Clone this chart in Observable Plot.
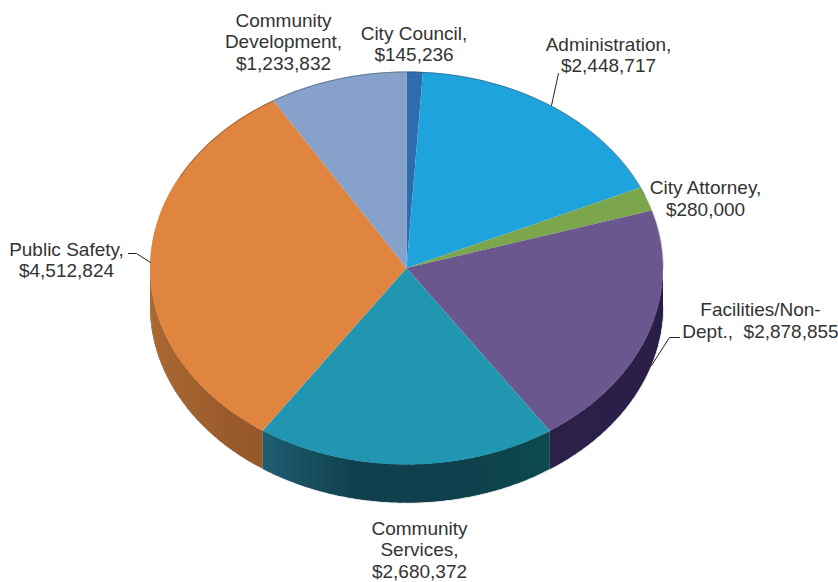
<!DOCTYPE html>
<html>
<head>
<meta charset="utf-8">
<script src="https://cdn.jsdelivr.net/npm/d3@7"></script>
<script src="https://cdn.jsdelivr.net/npm/@observablehq/plot@0.6"></script>
<style>
  html, body { margin: 0; padding: 0; background: #fff; }
  svg { display: block; }
</style>
</head>
<body>
<div id="chart"></div>
<script>
// General fund budget by department, clockwise from twelve o'clock.
const departments = ["City Council", "Administration", "City Attorney", "Facilities/Non-Dept.", "Community Services", "Public Safety", "Community Development"];
const budgets = [145236, 2448717, 280000, 2878855, 2680372, 4512824, 1233832];
const topColors = ["#2f6cae", "#1fa3dc", "#7ba64c", "#6a578d", "#2096b1", "#df853f", "#87a2ca"];
const rimColors = [
  ["#1c4068", "#1c4068"], ["#125f80", "#125f80"], ["#48602c", "#48602c"],
  ["#2a1e48", "#2c2049"], ["#0d4a50", "#0e3f4c", "#10404e", "#1f5f73"],
  ["#95572a", "#a5642f", "#ad6c35"], ["#4f5f76", "#4f5f76"]
];
const labelLines = [
  "City Council,\n$145,236",
  "Administration,\n$2,448,717",
  "City Attorney,\n$280,000",
  "Facilities/Non-\nDept.,\u00a0 $2,878,855",
  "Community\nServices,\n$2,680,372",
  "Public Safety,\n$4,512,824",
  "Community\nDevelopment,\n$1,233,832"
];

// Page layout of the tilted disc and its labels.
const disc = {cx: 406.5, cy: 268, rx: 256.5, ry: 196.5, depth: 38};
const labelX = [413.5, 608, 705, 760, 419, 66, 283];
const labelY = [43, 54, 197.5, 319.5, 549, 259, 41];
const leaderRuns = [
  {name: "Administration", xs: [551, 558], ys: [105, 73]},
  {name: "Public Safety", xs: [128, 136, 150], ys: [253, 253, 262]},
  {name: "Facilities", xs: [679, 669, 651], ys: [337, 337, 365]}
];

const tau = 2 * Math.PI;
const degree = Math.PI / 180;
const onDisc = (angle, drop = 0) => ({
  x: disc.cx + disc.rx * Math.sin(angle),
  y: disc.cy - disc.ry * Math.cos(angle) + drop
});

// Slice angles come straight from the budget values.
const total = d3.sum(budgets);
let running = 0;
const slices = departments.map((name, i) => {
  const start = running / total * tau;
  running += budgets[i];
  return {name, i, start, end: running / total * tau};
});

// Sample the outline of each wedge so the area mark can fan it from the centre.
const wedgePoints = slices.flatMap(s => {
  const steps = Math.max(4, Math.ceil((s.end - s.start) / degree));
  return d3.range(steps + 1).map(k => {
    const p = onDisc(s.start + (s.end - s.start) * k / steps);
    return {name: s.name, fill: topColors[s.i], x1: p.x, y1: p.y, x2: disc.cx, y2: disc.cy};
  });
});

// The rim is visible only on the near half of the disc. Short bands carry its
// shading; each one runs under the next so no seams open between them.
const rimBands = slices.flatMap(s => {
  const from = Math.max(s.start, Math.PI / 2);
  const to = Math.min(s.end, 3 * Math.PI / 2);
  if (to <= from) return [];
  const steps = Math.ceil((to - from) / (2 * degree));
  const shade = d3.piecewise(d3.interpolateRgb, rimColors[s.i]);
  return d3.range(steps).flatMap(k => {
    const a = from + (to - from) * k / steps;
    const b = Math.min(to, a + (to - from) / steps + 3 * degree);
    const fill = shade((k + 0.5) / steps);
    const band = `${s.name}-${k}`;
    return d3.range(7).map(j => {
      const t = a + (b - a) * j / 6;
      const p = onDisc(t), q = onDisc(t, disc.depth);
      return {band, fill, x1: p.x, y1: p.y, x2: q.x, y2: q.y};
    });
  });
});

// Thin edge around the far side of the disc, fading towards the flanks.
const arcFrom = (lo, hi, drop = 0) => d3.range(lo, hi + 1).map(d => onDisc(d * degree, drop));
const farEdge = arcFrom(-62, 68);
const flankEdges = [
  ...arcFrom(-90, -62).map(p => ({...p, part: "left"})),
  ...arcFrom(68, 90).map(p => ({...p, part: "right"})),
  ...arcFrom(90, 270, disc.depth).map(p => ({...p, part: "near"}))
];

const labels = labelLines.map((text, i) => ({text, x: labelX[i], y: labelY[i]}));
const leaders = leaderRuns.flatMap(run => run.xs.map((x, i) => ({name: run.name, x, y: run.ys[i]})));

const chart = Plot.plot({
  width: 838,
  height: 582,
  margin: 0,
  x: {type: "linear", domain: [0, 838], range: [0, 838], axis: null},
  y: {type: "linear", domain: [0, 582], range: [0, 582], axis: null},
  color: {type: "identity"},
  style: {background: "#fff"},
  marks: [
    Plot.area(rimBands, {x1: "x1", y1: "y1", x2: "x2", y2: "y2", z: "band", fill: "fill"}),
    Plot.line(flankEdges, {x: "x", y: "y", z: "part", stroke: "#8a8f94", strokeWidth: 0.7, strokeOpacity: 0.45}),
    Plot.area(wedgePoints, {x1: "x1", y1: "y1", x2: "x2", y2: "y2", z: "name", fill: "fill"}),
    Plot.line(farEdge, {x: "x", y: "y", stroke: "#3c4650", strokeWidth: 0.8, strokeOpacity: 0.6}),
    Plot.line(leaders, {x: "x", y: "y", z: "name", stroke: "#222", strokeWidth: 1}),
    Plot.text(labels, {
      x: "x", y: "y", text: "text",
      textAnchor: "middle", lineAnchor: "middle", lineHeight: 1.13,
      fontFamily: "Liberation Sans", fontSize: 19, fill: "#333"
    })
  ]
});
document.getElementById("chart").append(chart);
</script>
</body>
</html>
